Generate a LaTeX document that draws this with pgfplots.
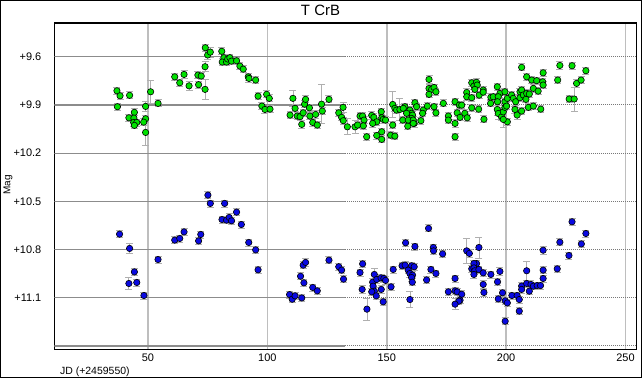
\documentclass[border=0pt]{standalone}
\usepackage{pgfplots}
\pgfplotsset{compat=1.18}
\usepackage{pgfplotstable}
\usepackage{fontspec}
\setmainfont{Liberation Sans}

\definecolor{ptgreen}{RGB}{0,225,0}
\definecolor{ptblue}{RGB}{10,10,225}
\definecolor{hgrid}{RGB}{140,140,140}
\definecolor{vgrid}{RGB}{190,190,190}
\definecolor{ebar}{RGB}{175,175,175}

\pgfplotstableread{
x y e
37.0 9.812 0.022
38.3 9.843 0.022
42.3 9.840 0.022
37.2 9.911 0.022
44.3 9.946 0.022
42.0 9.980 0.022
44.1 9.982 0.022
44.0 10.009 0.022
45.3 10.009 0.022
44.3 10.027 0.022
49.0 9.909 0.03
51.1 9.818 0.07
54.2 9.890 0.022
49.0 9.986 0.022
48.2 10.007 0.022
49.0 10.071 0.08
61.2 9.725 0.022
63.3 9.762 0.022
65.1 9.710 0.022
67.2 9.781 0.03
70.9 9.714 0.022
72.3 9.720 0.022
71.2 9.774 0.022
73.9 9.803 0.065
73.9 9.662 0.03
74.0 9.544 0.022
75.0 9.589 0.03
76.1 9.571 0.03
80.9 9.566 0.022
81.8 9.606 0.022
81.1 9.633 0.022
82.9 9.633 0.022
83.4 9.614 0.022
84.3 9.606 0.022
85.0 9.627 0.022
87.1 9.625 0.022
88.5 9.658 0.022
89.9 9.677 0.022
92.0 9.725 0.022
92.3 9.735 0.022
95.1 9.745 0.022
96.1 9.845 0.022
97.7 9.907 0.022
99.0 9.928 0.022
101.1 9.926 0.022
99.7 9.834 0.022
100.8 9.859 0.022
109.5 9.963 0.022
110.7 9.859 0.05
111.6 9.921 0.022
112.5 9.969 0.022
113.7 9.973 0.022
114.4 10.021 0.022
115.0 9.949 0.022
115.6 9.895 0.022
116.0 9.865 0.022
117.6 9.918 0.022
117.8 9.969 0.022
119.0 10.009 0.022
120.2 9.959 0.022
120.9 10.025 0.022
122.7 9.895 0.12
123.0 9.938 0.022
125.8 9.865 0.022
129.9 9.949 0.022
131.7 9.915 0.03
131.1 9.977 0.022
131.8 9.998 0.022
133.5 10.036 0.05
136.7 10.036 0.04
137.8 10.025 0.022
138.8 9.969 0.022
139.9 9.969 0.022
140.5 9.994 0.022
140.2 10.030 0.022
141.6 10.098 0.022
143.7 9.965 0.022
144.6 9.977 0.022
145.8 10.005 0.022
144.1 10.015 0.022
145.8 10.090 0.022
147.7 9.942 0.022
147.9 9.980 0.022
148.5 9.990 0.022
149.5 9.994 0.022
147.9 10.067 0.022
147.9 10.114 0.022
152.5 9.897 0.08
153.4 9.921 0.022
154.1 9.932 0.022
155.5 9.928 0.07
157.6 9.911 0.022
152.5 10.025 0.022
151.6 10.088 0.022
153.4 10.094 0.022
156.7 9.994 0.022
158.8 10.032 0.022
161.5 10.015 0.022
159.7 9.932 0.022
160.4 9.952 0.022
161.8 9.886 0.022
162.5 9.911 0.022
164.3 9.998 0.022
165.3 9.932 0.022
167.0 9.907 0.022
156.9 9.921 0.022
158.3 9.952 0.022
160.8 9.963 0.022
160.4 9.984 0.022
159.0 9.994 0.022
161.1 9.994 0.022
161.1 10.015 0.022
165.0 9.952 0.022
167.7 9.741 0.022
167.7 9.797 0.022
168.8 9.803 0.022
169.8 9.791 0.022
170.6 9.818 0.022
167.7 9.834 0.022
169.8 9.911 0.022
170.6 9.949 0.022
173.7 9.890 0.022
178.6 9.880 0.022
178.6 10.015 0.022
178.6 10.098 0.022
175.8 9.969 0.022
175.8 9.994 0.022
179.5 9.949 0.022
180.4 9.901 0.022
181.4 9.901 0.022
180.7 9.977 0.022
182.7 9.952 0.022
183.7 9.980 0.022
183.5 9.822 0.022
183.5 9.849 0.022
185.6 9.855 0.022
185.6 9.762 0.022
186.5 9.782 0.022
187.6 9.759 0.022
187.9 9.776 0.022
186.9 9.803 0.022
188.7 9.839 0.022
190.4 9.807 0.022
190.4 9.820 0.022
185.6 9.918 0.022
188.5 9.926 0.022
190.7 9.989 0.022
193.6 9.852 0.022
193.5 9.890 0.022
194.6 9.849 0.022
196.3 9.787 0.022
197.4 9.828 0.022
196.7 9.849 0.022
196.4 9.880 0.022
196.3 9.928 0.04
196.7 9.953 0.04
198.1 9.974 0.022
198.8 9.943 0.022
199.5 9.818 0.022
199.5 9.880 0.022
199.5 9.915 0.022
200.2 9.907 0.022
200.5 9.859 0.022
200.5 10.005 0.022
198.8 9.990 0.05
202.3 9.838 0.022
203.0 9.859 0.022
204.0 9.880 0.022
203.7 9.928 0.022
204.6 9.963 0.03
205.8 9.855 0.022
205.8 9.818 0.022
206.5 9.807 0.022
206.5 9.938 0.022
207.2 9.838 0.022
208.3 9.865 0.022
208.6 9.828 0.022
209.7 9.832 0.022
209.3 9.915 0.022
211.4 9.907 0.022
211.4 9.797 0.022
213.4 9.814 0.022
214.5 9.926 0.022
206.5 9.666 0.022
208.6 9.725 0.022
210.7 9.745 0.022
212.8 9.749 0.022
215.3 9.756 0.022
215.5 9.776 0.022
215.5 9.700 0.022
221.6 9.745 0.022
222.5 9.654 0.022
227.6 9.656 0.022
226.4 9.863 0.022
228.5 9.863 0.075
229.5 9.766 0.022
231.4 9.745 0.022
233.4 9.687 0.022
}\greendata

\pgfplotstableread{
x y e
38.1 10.704 0.022
42.3 10.793 0.03
44.3 10.939 0.022
42.0 11.011 0.035
45.3 11.005 0.022
48.3 11.086 0.022
54.2 10.862 0.022
61.2 10.741 0.022
63.3 10.731 0.022
65.1 10.690 0.022
71.2 10.746 0.022
72.1 10.706 0.022
75.1 10.461 0.022
76.1 10.513 0.022
82.1 10.513 0.022
81.0 10.613 0.022
82.9 10.617 0.022
84.0 10.600 0.022
85.0 10.621 0.022
87.1 10.567 0.022
89.1 10.644 0.022
92.2 10.756 0.022
95.1 10.802 0.022
96.1 10.926 0.022
109.3 11.080 0.022
110.4 11.109 0.022
111.6 11.088 0.022
114.4 11.101 0.022
113.9 10.966 0.022
115.3 11.007 0.022
115.0 10.897 0.022
116.0 10.880 0.022
119.0 11.036 0.022
120.9 11.057 0.022
125.8 10.866 0.022
129.9 10.907 0.022
131.1 10.928 0.022
131.9 10.984 0.022
138.8 10.943 0.022
139.9 10.889 0.022
139.7 11.048 0.022
141.7 11.171 0.07
144.8 10.955 0.04
144.1 11.003 0.022
145.8 10.986 0.022
147.6 10.976 0.022
148.8 10.980 0.022
149.5 10.992 0.022
144.3 11.028 0.022
144.8 11.059 0.022
143.7 11.063 0.022
147.7 11.048 0.022
145.6 11.088 0.022
148.5 11.125 0.022
151.8 11.032 0.022
152.7 10.924 0.022
157.9 10.758 0.022
161.8 10.781 0.022
156.4 10.901 0.022
157.7 10.897 0.022
160.4 10.901 0.022
161.5 10.907 0.022
159.0 10.928 0.022
159.7 10.949 0.022
160.8 10.959 0.022
160.4 10.974 0.022
160.7 11.003 0.022
166.7 10.989 0.022
168.5 10.924 0.022
170.6 10.949 0.022
167.5 10.668 0.022
169.5 10.787 0.022
169.6 10.808 0.022
159.7 11.111 0.05
173.4 10.827 0.022
178.6 10.980 0.022
175.8 11.063 0.022
178.6 11.057 0.022
179.5 11.063 0.022
181.4 11.078 0.022
180.7 11.115 0.022
180.2 11.121 0.022
178.6 11.140 0.035
183.5 10.808 0.08
184.6 10.824 0.022
188.6 10.787 0.065
187.6 10.887 0.022
186.5 10.887 0.022
185.6 10.920 0.022
186.5 10.914 0.022
186.9 10.932 0.022
186.5 10.955 0.022
188.6 10.924 0.022
190.4 10.945 0.022
193.6 10.955 0.022
190.4 11.017 0.022
190.7 11.067 0.022
197.4 10.936 0.022
196.4 11.001 0.022
198.5 11.069 0.022
196.7 11.107 0.022
199.6 11.119 0.022
200.5 11.132 0.022
199.6 11.246 0.022
202.4 11.086 0.022
204.6 11.086 0.022
205.5 11.111 0.022
205.5 11.183 0.022
206.5 11.027 0.022
206.5 11.048 0.022
208.6 10.932 0.06
208.6 11.011 0.022
209.7 11.059 0.022
210.4 11.017 0.022
211.4 11.028 0.022
213.0 11.024 0.022
214.4 11.024 0.022
215.5 10.980 0.022
215.5 10.928 0.022
215.5 10.804 0.025
221.4 10.920 0.022
222.5 10.754 0.022
226.3 10.837 0.022
227.6 10.627 0.022
231.5 10.765 0.022
233.4 10.700 0.022
}\bluedata

\begin{document}
\begin{tikzpicture}
\useasboundingbox (-54.3bp,-28.5bp) rectangle (587.7bp,349.5bp);
\begin{axis}[
  at={(0,0)}, anchor=south west,
  scale only axis, width=582.2bp, height=326.5bp,
  xmin=10.76, xmax=254.6, ymin=9.390, ymax=11.422, y dir=reverse,
  xtick={50,100,150,200,250},
  xticklabels={50,100,150,200,250},
  ytick={9.6,9.9,10.2,10.5,10.8,11.1,11.4},
  yticklabels={+9.6,+9.9,+10.2,+10.5,+10.8,+11.1,{}},
  major tick length=0pt,
  xmajorgrids=true, ymajorgrids=false,
  major x grid style={vgrid, line width=1.5bp},
  axis line style={black, line width=1.2bp},
  tick label style={font=\fontsize{11}{13}\selectfont},
  yticklabel style={xshift=-9.5bp},
  xticklabel style={yshift=-0.5bp},
  /pgf/number format/assume math mode=true,
  xlabel={JD (+2459550)},
  xlabel style={at={(axis description cs:0.004,-0.0674)}, anchor=west, font=\fontsize{10.5}{12}\selectfont},
  ylabel={Mag},
  ylabel style={at={(axis description cs:-0.0795,0.505)}, anchor=center, font=\fontsize{10}{12}\selectfont},
  clip=true,
]
\pgfplotsinvokeforeach{9.6,9.9,10.2,10.5,10.8,11.1,11.4}{
  \draw[hgrid, line width=1.2bp] (axis cs:10.76,#1) -- (axis cs:132.5,#1);
  \draw[color={rgb,255:red,120;green,120;blue,120}, line width=1bp, dash pattern=on 1bp off 1bp] (axis cs:132.5,#1) -- (axis cs:254.6,#1);
}
\addplot[only marks, mark=none, error bars/.cd, y dir=both, y explicit,
  error bar style={draw=ebar, line width=0.8bp},
  error mark options={draw=ebar, rotate=90, mark size=3.5bp, line width=0.8bp}]
  table[x=x, y=y, y error=e]{\greendata};
\addplot[only marks, mark=*, mark size=3.2bp, mark options={draw=black, fill=ptgreen, line width=0.6bp}]
  table[x=x, y=y]{\greendata};
\addplot[only marks, mark=none, error bars/.cd, y dir=both, y explicit,
  error bar style={draw=ebar, line width=0.8bp},
  error mark options={draw=ebar, rotate=90, mark size=3.5bp, line width=0.8bp}]
  table[x=x, y=y, y error=e]{\bluedata};
\addplot[only marks, mark=*, mark size=3.2bp, mark options={draw=black, fill=ptblue, line width=0.6bp}]
  table[x=x, y=y]{\bluedata};
\end{axis}
\node[font=\fontsize{15}{18}\selectfont, anchor=center] at (266.2bp,338.8bp) {T CrB};
\draw[black, line width=1bp] (-53.8bp,-28bp) rectangle (587.2bp,349bp);
\end{tikzpicture}
\end{document}
